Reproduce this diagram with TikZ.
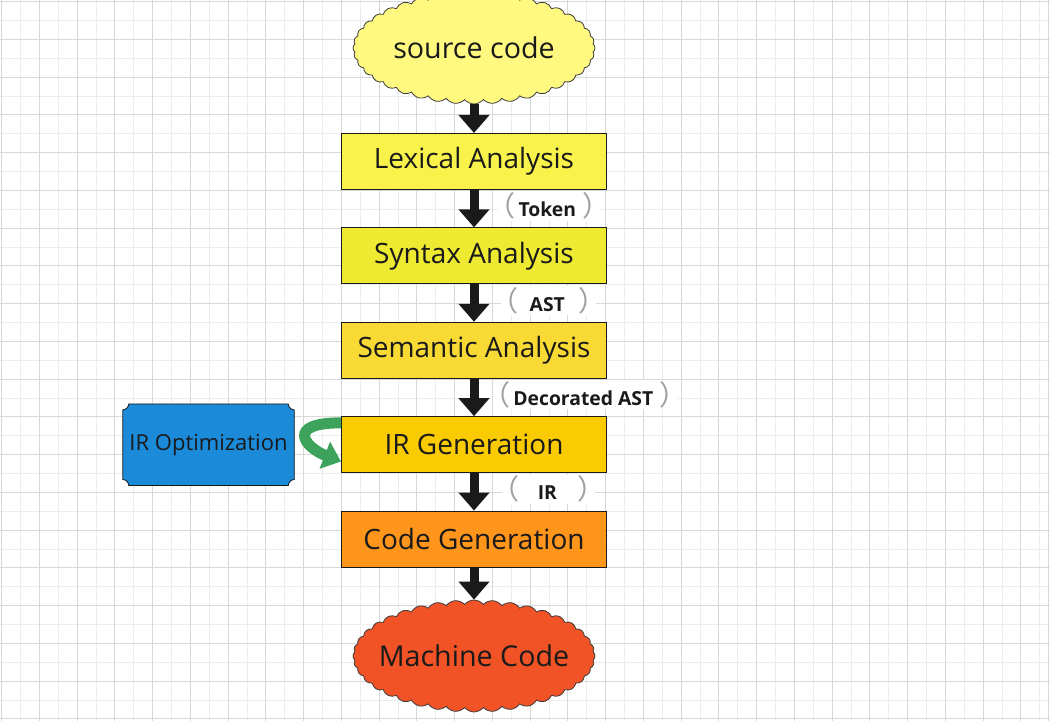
\documentclass[tikz,border=0pt]{standalone}
\usepackage{fontspec}
\setmainfont{Open Sans}
\newfontfamily\cjk{Noto Sans CJK SC}
\usetikzlibrary{positioning,shapes.symbols,arrows.meta}
\definecolor{ink}{HTML}{1A1A1A}
\definecolor{gridminor}{HTML}{EDEDED}
\definecolor{gridmajor}{HTML}{D8D8D8}
\definecolor{srcfill}{HTML}{FFF980}
\definecolor{lexfill}{HTML}{F8F24B}
\definecolor{synfill}{HTML}{EEE931}
\definecolor{semfill}{HTML}{F9DA34}
\definecolor{irgfill}{HTML}{FACB00}
\definecolor{cgfill}{HTML}{FF951B}
\definecolor{mcfill}{HTML}{F15326}
\definecolor{optfill}{HTML}{1A8AD9}
\definecolor{loopgreen}{HTML}{3DA35C}
\newcommand\tagopen{\kern-9pt{\cjk\mdseries\fontsize{21pt}{21pt}\selectfont\color{gray!75}（}\kern2.5pt}
\newcommand\tagclose{\kern4.5pt{\cjk\mdseries\fontsize{21pt}{21pt}\selectfont\color{gray!75}）}\kern-9pt}
\tikzset{x=0.75pt, y=-0.75pt,
    node distance=28pt,
    phase/.style={draw=ink, line width=0.8pt, text=ink,
        minimum width=198.75pt, minimum height=42pt,
        font=\fontsize{21pt}{24pt}\selectfont},
    blob/.style={cloud, cloud puffs=40, cloud puff arc=100,
        cloud ignores aspect, draw=ink!85, line width=0.6pt,
        minimum width=181.5pt, minimum height=84pt},
    blobtext/.style={text=ink, font=\fontsize{21.5pt}{24pt}\selectfont},
    flow/.style={draw=ink, line width=6.75pt,
        -{Triangle[length=13.5pt,width=22.5pt]}},
    tag/.style={fill=white, inner sep=1pt, text=ink,
        font=\bfseries\fontsize{14.5pt}{17pt}\selectfont},
    }

\begin{document}
\begin{tikzpicture}
\useasboundingbox (0,0) rectangle (1050,721);
% grid paper
\foreach \i in {0,...,55}
    \draw[gridminor, line width=0.75pt] ({1.7+18.875*\i},0) -- ++(0,721);
\foreach \j in {0,...,38}
    \draw[gridminor, line width=0.75pt] (0,{1.7+18.875*\j}) -- ++(1050,0);
\foreach \i in {0,...,27}
    \draw[gridmajor, line width=0.75pt] ({1.7+37.75*\i},0) -- ++(0,721);
\foreach \j in {0,...,19}
    \draw[gridmajor, line width=0.75pt] (0,{1.7+37.75*\j}) -- ++(1050,0);
\draw[gridmajor, line width=0.75pt] (1048,0) -- (1048,721);

% pipeline
\node[blob, fill=srcfill, label={[blobtext]center:source code}] (src) at (474,48) {};
\node[phase, fill=lexfill] (lex) at (474,161.5) {Lexical Analysis};
\node[phase, fill=synfill, below=of lex] (syn) {Syntax Analysis};
\node[phase, fill=semfill, below=of syn] (sem) {Semantic Analysis};
\node[phase, fill=irgfill, below=of sem] (irg) {IR Generation};
\node[phase, fill=cgfill, below=of irg] (cg) {Code Generation};
\node[blob, fill=mcfill, label={[blobtext]center:Machine Code}] (mc) at (474,656) {};

% optimizer, concave corners drawn by hand
\node[minimum width=128.25pt, minimum height=60.75pt, left=35pt of irg] (opt) {};
\fill[optfill, draw=ink, line width=0.6pt]
    ([yshift=-4.5pt]opt.north west) .. controls +(3,0) and +(0,3) .. ([xshift=4.5pt]opt.north west)
    -- ([xshift=-4.5pt]opt.north east) .. controls +(0,3) and +(-3,0) .. ([yshift=-4.5pt]opt.north east)
    -- ([yshift=4.5pt]opt.south east) .. controls +(-3,0) and +(0,-3) .. ([xshift=-4.5pt]opt.south east)
    -- ([xshift=4.5pt]opt.south west) .. controls +(0,-3) and +(3,0) .. ([yshift=4.5pt]opt.south west)
    -- cycle;
\node[text=ink, font=\fontsize{16.5pt}{19pt}\selectfont] (opttext) at (opt) {IR Optimization};

\draw[flow] (src) -- (lex);
\draw[flow] (lex) -- node[tag, xshift=56pt, yshift=2pt] (tok) {\tagopen Token\tagclose} (syn);
\draw[flow] (syn) -- node[tag, xshift=56pt, yshift=2pt] (ast) {\tagopen\hspace{6pt}AST\hspace{6pt}\tagclose} (sem);
\draw[flow] (sem) -- node[tag, xshift=83pt, yshift=2pt] (dast) {\tagopen Decorated AST\tagclose} (irg);
\draw[flow] (irg) -- node[tag, xshift=56pt, yshift=2pt] (ir) {\tagopen\hspace{11pt}IR\hspace{11pt}\tagclose} (cg);
\draw[flow] (cg) -- (mc);

% feedback loop
\coordinate (loopin) at ([yshift=-5pt]irg.north west);
\coordinate (loopout) at ([yshift=-34pt]irg.north west);
\draw[loopgreen, line width=8.25pt, -{Triangle[length=13pt,width=21pt]}]
    (loopin) .. controls +(-56,0) and +(-36,-14) .. (loopout);
\end{tikzpicture}
\end{document}
